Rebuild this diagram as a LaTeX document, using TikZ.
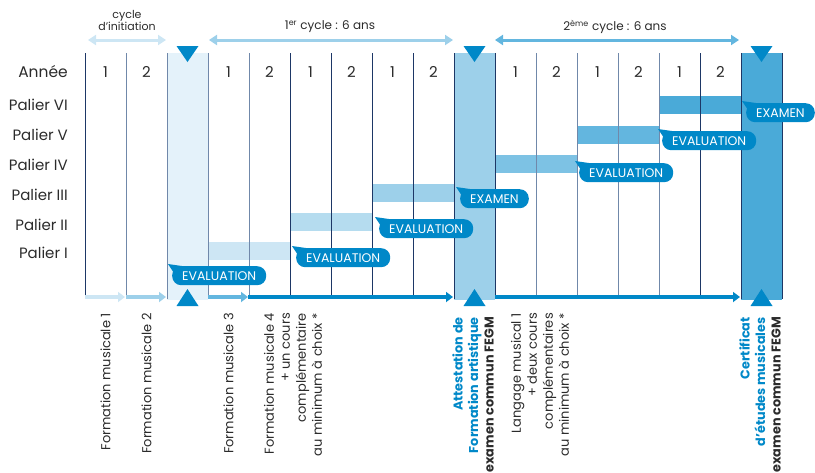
\documentclass[tikz,border=0pt]{standalone}
\usepackage{fontspec}
\setmainfont{Poppins}
\usetikzlibrary{arrows.meta}
\definecolor{fegm}{HTML}{0088C8}
\definecolor{navy}{HTML}{1D3766}
\definecolor{slate}{HTML}{7088AA}
\definecolor{ink}{HTML}{2B2B2B}
\definecolor{tint0}{HTML}{E4F2FA}
\definecolor{tint1}{HTML}{CDE6F4}
\definecolor{tint2}{HTML}{B5DCEF}
\definecolor{tint3}{HTML}{9DD0EA}
\definecolor{tint4}{HTML}{7DC2E4}
\definecolor{tint5}{HTML}{63B6DF}
\definecolor{tint6}{HTML}{4AAAD8}
\newcommand{\fs}[2]{\fontsize{#1}{#2}\selectfont} % Font size and skip.
\newcommand{\titre}[1]{{\color{fegm}\bfseries #1}}

\tikzset{
  palier/.style={anchor=east, text=ink, font=\fs{15}{17}, inner sep=0pt},
  annee/.style={text=ink, font=\fs{15}{17}},
  bulle/.style={anchor=north west, fill=fegm, text=white, font=\fs{12.5}{14},
    rounded corners=9pt, minimum height=19pt, inner xsep=10pt, inner ysep=0pt},
  cours/.style={rotate=90, anchor=east, align=right, text=ink, font=\fs{13}{16},
    inner sep=0pt},
  cycle/.style={line width=3pt,
    {Triangle[length=8pt,width=10pt]}-{Triangle[length=8pt,width=10pt]}},
  fleche/.style={line width=3.5pt, -{Triangle[length=7pt,width=10pt]}},
}

\begin{document}
\begin{tikzpicture}[x=1pt, y=-1pt]
\useasboundingbox (0,0) rectangle (815,472);

% examination columns
\fill[tint0] (167,53) rectangle (208,300);
\fill[tint3] (454,53) rectangle (495,300);
\fill[tint6] (741,53) rectangle (782,300);

% bars per palier
\fill[tint1] (208,242) rectangle (290,260);
\fill[tint2] (290,213) rectangle (372,231);
\fill[tint3] (372,184) rectangle (454,202);
\fill[tint4] (495,155) rectangle (577,173);
\fill[tint5] (577,126) rectangle (659,144);
\fill[tint6] (659,96) rectangle (741,114);

% year separators
\draw[navy]  (85,53) -- (85,299);
\draw[slate] (126,53) -- (126,299);
\draw[slate] (167,53) -- (167,299);
\draw[slate] (208,53) -- (208,299);
\draw[slate] (249,53) -- (249,299);
\draw[navy]  (290,53) -- (290,299);
\draw[navy]  (331,53) -- (331,299);
\draw[navy]  (372,53) -- (372,299);
\draw[navy]  (413,53) -- (413,299);
\draw[navy]  (454,53) -- (454,299);
\draw[navy]  (495,53) -- (495,299);
\draw[slate] (536,53) -- (536,299);
\draw[slate] (577,53) -- (577,299);
\draw[slate] (618,53) -- (618,299);
\draw[slate] (659,53) -- (659,299);
\draw[navy]  (700,53) -- (700,299);
\draw[navy]  (741,53) -- (741,299);
\draw[navy]  (782,53) -- (782,299);

% cycles
\node[text=ink, font=\fs{11}{12}, align=center, inner sep=0pt] (initiation) at (127,20)
  {cycle\\d'initiation};
\node[text=ink, font=\fs{12}{14}] (cycle1) at (330,27) {1\textsuperscript{er} cycle : 6 ans};
\node[text=ink, font=\fs{12}{14}] (cycle2) at (615,27) {2\textsuperscript{ème} cycle : 6 ans};
\draw[cycle, tint1] (88,40) -- (166,40);
\draw[cycle, tint3] (209,40) -- (453,40);
\draw[cycle, tint5] (495,40) -- (739,40);

% row labels
\node[palier, font=\fs{15.5}{17}] (annee) at (68,72) {Année};
\node[palier] (p6) at (68,105) {Palier VI};
\node[palier] (p5) at (68,135) {Palier V};
\node[palier] (p4) at (68,165) {Palier IV};
\node[palier] (p3) at (68,195) {Palier III};
\node[palier] (p2) at (68,225) {Palier II};
\node[palier] (p1) at (68,253) {Palier I};

% years
\node[annee] (a1) at (105.5,72) {1};
\node[annee] (a2) at (146.5,72) {2};
\node[annee] (b1) at (228.5,72) {1};
\node[annee] (b2) at (269.5,72) {2};
\node[annee] (b3) at (310.5,72) {1};
\node[annee] (b4) at (351.5,72) {2};
\node[annee] (b5) at (392.5,72) {1};
\node[annee] (b6) at (433.5,72) {2};
\node[annee] (c1) at (515.5,72) {1};
\node[annee] (c2) at (556.5,72) {2};
\node[annee] (c3) at (597.5,72) {1};
\node[annee] (c4) at (638.5,72) {2};
\node[annee] (c5) at (679.5,72) {1};
\node[annee] (c6) at (720.5,72) {2};

% progression line
\draw[fleche, tint1] (85,297) -- (125,297);
\draw[fleche, tint3] (126,297) -- (166,297);
\draw[fleche, tint5] (208,297) -- (248,297);
\draw[fleche, fegm] (248,297) -- (453,297);
\draw[fleche, fegm] (495,297) -- (740,297);

% markers
\fill[fegm] (176.5,46) -- (198.5,46) -- (187.5,62) -- cycle;
\fill[fegm] (463.5,46) -- (485.5,46) -- (474.5,62) -- cycle;
\fill[fegm] (750.5,46) -- (772.5,46) -- (761.5,62) -- cycle;
\fill[fegm] (176.5,306) -- (198.5,306) -- (187.5,289) -- cycle;
\fill[fegm] (463.5,306) -- (485.5,306) -- (474.5,289) -- cycle;
\fill[fegm] (750.5,306) -- (772.5,306) -- (761.5,289) -- cycle;

% evaluations
\node[bulle] (e0) at (172,266) {EVALUATION};
\node[bulle] (e1) at (296,248) {EVALUATION};
\node[bulle] (e2) at (379,219) {EVALUATION};
\node[bulle] (e3) at (460,189) {EXAMEN};
\node[bulle] (e4) at (579,163) {EVALUATION};
\node[bulle] (e5) at (662,131) {EVALUATION};
\node[bulle] (e6) at (746,103) {EXAMEN};
\fill[fegm] ([xshift=-4pt,yshift=2pt]e0.north west) -- ([xshift=10pt]e0.north west) -- ([xshift=2pt,yshift=-7pt]e0.north west) -- cycle;
\fill[fegm] ([xshift=-4pt,yshift=2pt]e1.north west) -- ([xshift=10pt]e1.north west) -- ([xshift=2pt,yshift=-7pt]e1.north west) -- cycle;
\fill[fegm] ([xshift=-4pt,yshift=2pt]e2.north west) -- ([xshift=10pt]e2.north west) -- ([xshift=2pt,yshift=-7pt]e2.north west) -- cycle;
\fill[fegm] ([xshift=-4pt,yshift=2pt]e3.north west) -- ([xshift=10pt]e3.north west) -- ([xshift=2pt,yshift=-7pt]e3.north west) -- cycle;
\fill[fegm] ([xshift=-4pt,yshift=2pt]e4.north west) -- ([xshift=10pt]e4.north west) -- ([xshift=2pt,yshift=-7pt]e4.north west) -- cycle;
\fill[fegm] ([xshift=-4pt,yshift=2pt]e5.north west) -- ([xshift=10pt]e5.north west) -- ([xshift=2pt,yshift=-7pt]e5.north west) -- cycle;
\fill[fegm] ([xshift=-4pt,yshift=2pt]e6.north west) -- ([xshift=10pt]e6.north west) -- ([xshift=2pt,yshift=-7pt]e6.north west) -- cycle;

% courses
\node[cours] (fm1) at (105.5,313) {Formation musicale 1};
\node[cours] (fm2) at (146.5,313) {Formation musicale 2};
\node[cours] (fm3) at (228.5,313) {Formation musicale 3};
\node[cours] (fm4) at (293,313)
  {Formation musicale 4\\+ un cours\\complémentaire\\au minimum à choix *};
\node[cours, font=\fs{12.8}{15.5}] (attestation) at (473,317)
  {\titre{Attestation de}\\\titre{Formation artistique}\\\bfseries examen commun FEGM};
\node[cours] (langage) at (540,313)
  {Langage musical 1\\+ deux cours\\complémentaires\\au minimum à choix *};
\node[cours, font=\fs{12.8}{15.5}] (certificat) at (760,317)
  {\titre{Certificat}\\\titre{d'études musicales}\\\bfseries examen commun FEGM};
\end{tikzpicture}
\end{document}
